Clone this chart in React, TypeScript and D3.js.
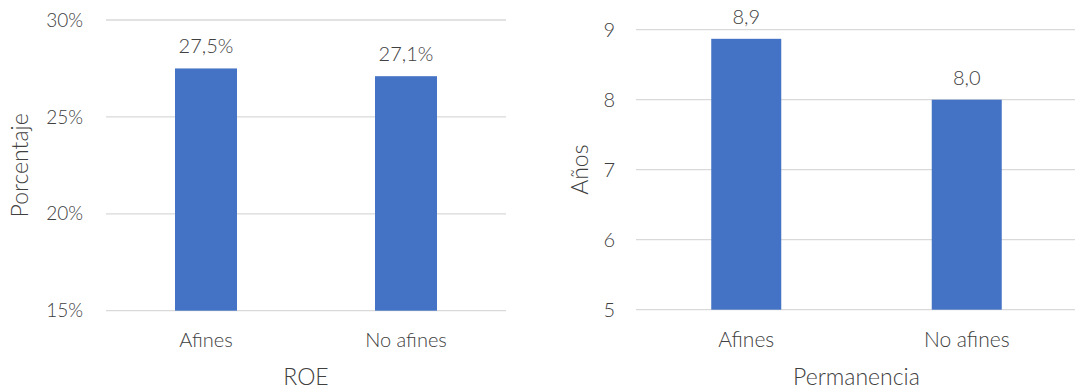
import React from "react";
import * as d3 from "d3";

const categories = ["Afines", "No afines"];
const roeValues = [27.5, 27.1];
const roeTicks = [15, 20, 25, 30];
const permValues = [8.87, 8.0];
const permTicks = [5, 6, 7, 8, 9];

const FONT = "Lato, 'Open Sans', sans-serif";
const TEXT = "#404040";
const GRID = "#d9d9d9";
const BAR = "#4472C4";

type PanelProps = {
  x0: number; x1: number; yTop: number; yBot: number;
  domain: [number, number]; ticks: number[]; values: number[];
  tickFmt: (v: number) => string; labelFmt: (v: number) => string;
  tickRight: number; barW: number; yTitle: string; yTitleX: number;
  xTitle: string; tickSize: number; labelSize: number; catSize: number; titleSize: number;
};

function Panel(p: PanelProps) {
  const x = d3.scaleBand<string>().domain(categories).range([p.x0, p.x1]);
  const y = d3.scaleLinear().domain(p.domain).range([p.yBot, p.yTop]);
  const cx = (p.x0 + p.x1) / 2;
  const cy = (p.yTop + p.yBot) / 2;
  return (
    <g fontFamily={FONT} fill={TEXT} fontWeight={300}>
      {p.ticks.map((t) => (
        <g key={t}>
          <line x1={p.x0} x2={p.x1} y1={y(t)} y2={y(t)} stroke={GRID} strokeWidth={1.3} />
          <text x={p.tickRight} y={y(t)} dy="0.35em" textAnchor="end" fontSize={p.tickSize}>
            {p.tickFmt(t)}
          </text>
        </g>
      ))}
      {categories.map((c, i) => {
        const bx = (x(c) as number) + x.bandwidth() / 2;
        return (
          <g key={c}>
            <rect x={bx - p.barW / 2} width={p.barW} y={y(p.values[i])}
              height={y(p.domain[0]) - y(p.values[i])} fill={BAR} />
            <text x={bx} y={y(p.values[i]) - 15} textAnchor="middle" fontSize={p.labelSize}>
              {p.labelFmt(p.values[i])}
            </text>
            <text x={bx} y={347} textAnchor="middle" fontSize={p.catSize}>{c}</text>
          </g>
        );
      })}
      <text x={cx} y={385} textAnchor="middle" fontSize={p.titleSize}>{p.xTitle}</text>
      <text transform={`translate(${p.yTitleX},${cy}) rotate(-90)`} textAnchor="middle"
        dy="0.35em" fontSize={p.titleSize}>{p.yTitle}</text>
    </g>
  );
}

const comma = (v: number, d: number) => v.toFixed(d).replace(".", ",");

export default function App() {
  return (
    <svg width={1075} height={388} style={{ position: "absolute", left: 0, top: 0, background: "#fff" }}>
      <Panel x0={106} x1={506} yTop={20} yBot={310.7} domain={[15, 30]} ticks={roeTicks}
        values={roeValues} tickFmt={(v) => `${v}%`} labelFmt={(v) => `${comma(v, 1)}%`}
        tickRight={83} barW={62} yTitle="Porcentaje" yTitleX={20} xTitle="ROE"
        tickSize={19} labelSize={20} catSize={20} titleSize={23} />
      <Panel x0={636} x1={1077} yTop={29.7} yBot={309.7} domain={[5, 9]} ticks={permTicks}
        values={permValues} tickFmt={(v) => `${v}`} labelFmt={(v) => comma(v, 1)}
        tickRight={615} barW={70} yTitle="Años" yTitleX={580} xTitle="Permanencia"
        tickSize={20} labelSize={20} catSize={21} titleSize={23} />
    </svg>
  );
}
